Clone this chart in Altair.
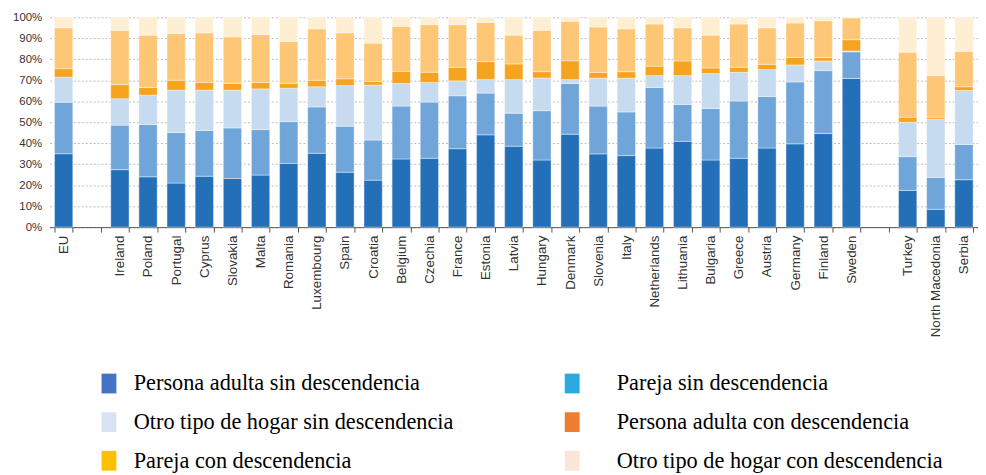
import altair as alt
import pandas as pd

countries = ["EU", "gap1", "Ireland", "Poland", "Portugal", "Cyprus", "Slovakia", "Malta", "Romania",
             "Luxembourg", "Spain", "Croatia", "Belgium", "Czechia", "France", "Estonia", "Latvia",
             "Hungary", "Denmark", "Slovenia", "Italy", "Netherlands", "Lithuania", "Bulgaria",
             "Greece", "Austria", "Germany", "Finland", "Sweden", "gap2", "Turkey", "North Macedonia", "Serbia"]

series = ["Persona adulta sin descendencia", "Pareja sin descendencia",
          "Otro tipo de hogar sin descendencia", "Persona adulta con descendencia",
          "Pareja con descendencia", "Otro tipo de hogar con descendencia"]

# values per country (same order as series), in %
values = {
    "EU":              [35.0, 24.5, 12.0, 4.0, 19.5, 5.0],
    "Ireland":         [27.4, 21.2, 12.6, 6.8, 25.8, 6.2],
    "Poland":          [24.0, 24.9, 14.0, 3.7, 24.9, 8.5],
    "Portugal":        [21.0, 24.1, 20.2, 4.7, 22.3, 7.7],
    "Cyprus":          [24.3, 21.8, 19.2, 3.6, 23.7, 7.4],
    "Slovakia":        [23.2, 24.1, 18.0, 3.2, 22.2, 9.3],
    "Malta":           [24.8, 21.7, 19.4, 3.0, 22.9, 8.2],
    "Romania":         [30.4, 19.9, 15.9, 2.3, 20.0, 11.5],
    "Luxembourg":      [35.2, 22.1, 9.6, 3.1, 24.5, 5.5],
    "Spain":           [26.2, 21.9, 19.4, 3.2, 21.9, 7.4],
    "Croatia":         [22.4, 19.1, 26.2, 1.7, 18.3, 12.3],
    "Belgium":         [32.5, 25.2, 10.8, 5.8, 21.4, 4.3],
    "Czechia":         [32.8, 26.8, 9.3, 4.9, 22.7, 3.5],
    "France":          [37.4, 25.2, 7.1, 6.5, 20.3, 3.5],
    "Estonia":         [44.0, 19.9, 6.4, 8.6, 18.7, 2.4],
    "Latvia":          [38.6, 15.7, 16.0, 7.5, 13.7, 8.5],
    "Hungary":         [32.0, 23.5, 15.6, 3.0, 19.7, 6.2],
    "Denmark":         [44.3, 24.2, 1.8, 9.0, 18.8, 1.9],
    "Slovenia":        [34.9, 22.8, 13.3, 2.7, 21.7, 4.6],
    "Italy":           [34.1, 20.8, 16.1, 3.1, 20.4, 5.5],
    "Netherlands":     [37.7, 28.9, 5.6, 4.5, 20.1, 3.2],
    "Lithuania":       [40.9, 17.6, 13.7, 7.0, 15.8, 5.0],
    "Bulgaria":        [32.0, 24.6, 16.6, 2.7, 15.6, 8.5],
    "Greece":          [32.8, 27.3, 13.7, 2.4, 20.6, 3.2],
    "Austria":         [37.7, 24.6, 12.8, 2.5, 17.4, 5.0],
    "Germany":         [39.7, 29.5, 8.1, 3.6, 16.4, 2.7],
    "Finland":         [44.6, 30.0, 4.6, 1.6, 17.6, 1.6],
    "Sweden":          [71.1, 12.7, 0.4, 5.4, 10.4, 0.3],
    "Turkey":          [17.5, 16.1, 16.4, 2.4, 31.0, 16.6],
    "North Macedonia": [8.5, 15.2, 27.7, 1.0, 19.8, 27.8],
    "Serbia":          [22.6, 16.8, 25.7, 1.8, 16.9, 16.2],
}

bar_colors = ["#2370b8", "#6fa5d9", "#c6daf0", "#f6a31f", "#fdc776", "#feefd2"]
legend_colors = ["#4472c4", "#29abe2", "#dae3f3", "#ed7d31", "#ffc000", "#fbe5d6"]
legend_cols = [0, 1, 0, 1, 0, 1]
legend_rows = [0, 0, 1, 1, 2, 2]

rows = []
for c, vals in values.items():
    for i, (s, v) in enumerate(zip(series, vals)):
        rows.append({"country": c, "serie": s, "value": v, "order": i})
df = pd.DataFrame(rows)

bars = alt.Chart(df).mark_bar(stroke="white", strokeWidth=0.4).encode(
    x=alt.X("country:N", sort=countries, title=None,
            scale=alt.Scale(domain=countries, paddingInner=0.35, paddingOuter=0.175),
            axis=alt.Axis(labelAngle=-90, labelFont="Liberation Sans", labelFontSize=13.5,
                          labelColor="#333333", labelPadding=3, tickBand="extent",
                          tickSize=5, tickColor="#555555", domainColor="#555555",
                          labelExpr="indexof(datum.label, 'gap') == 0 ? '' : datum.label",
                          grid=False)),
    y=alt.Y("value:Q", stack="normalize", title=None,
            scale=alt.Scale(domain=[0, 1]),
            axis=alt.Axis(format=".0%", values=[i / 10 for i in range(11)],
                          labelFont="Liberation Sans", labelFontSize=11.5, labelColor="#333333",
                          domain=False, ticks=False, labelPadding=8,
                          gridDash=[2, 2], gridColor="#bbbbbb")),
    color=alt.Color("serie:N", scale=alt.Scale(domain=series, range=bar_colors), legend=None),
    order=alt.Order("order:Q"),
).properties(width=938, height=212)

leg_df = pd.DataFrame({"label": series, "color": legend_colors,
                       "col": legend_cols, "row": legend_rows})

ly = alt.Y("row:Q", scale=alt.Scale(domain=[0, 2], range=[47, 125]), axis=None)

leg_sym = alt.Chart(leg_df).mark_point(
    shape="M-0.75,-1L0.75,-1L0.75,1L-0.75,1Z", size=400, filled=True, opacity=1
).encode(x=alt.X("col:Q", scale=alt.Scale(domain=[0, 1], range=[60, 528]), axis=None),
         y=ly, color=alt.Color("color:N", scale=None))

leg_txt = alt.Chart(leg_df).mark_text(
    align="left", baseline="middle", font="Liberation Serif", fontSize=22.5, color="black"
).encode(x=alt.X("col:Q", scale=alt.Scale(domain=[0, 1], range=[85, 573]), axis=None),
         y=ly, text="label:N")

legend = alt.layer(leg_sym, leg_txt).resolve_scale(x="independent").properties(width=938, height=124)

chart = alt.vconcat(bars, legend, spacing=0).properties(
    padding={"left": 4, "top": 1, "right": 0, "bottom": 0}
).configure(background="white").configure_view(stroke=None)

chart.save("out.html", embed_options={"renderer": "svg", "actions": False})
